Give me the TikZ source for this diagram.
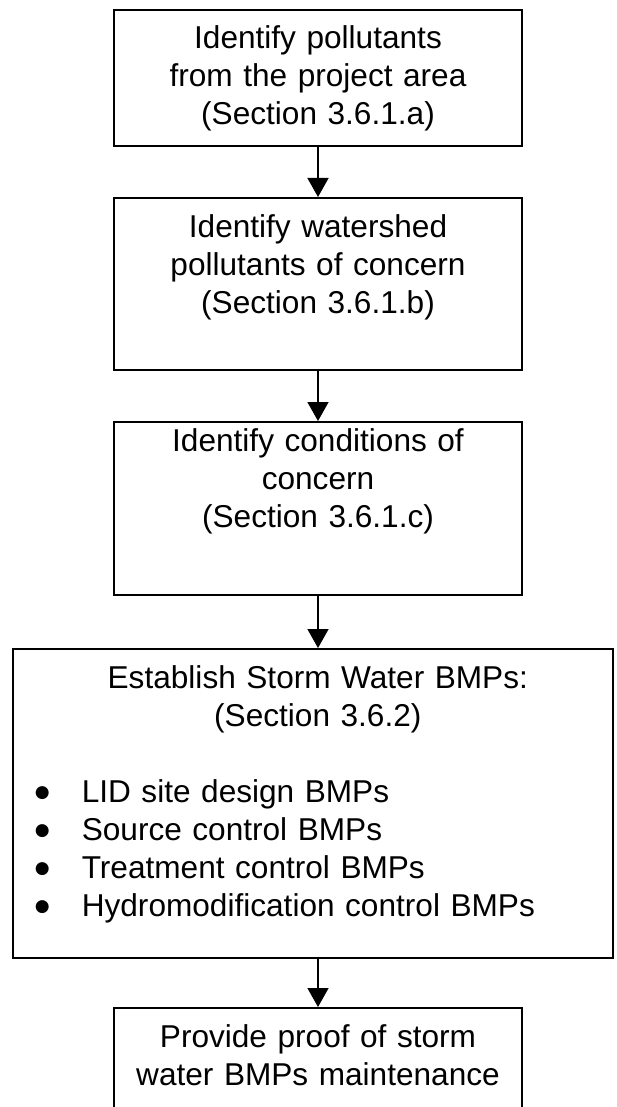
\documentclass[tikz,border=0pt]{standalone}
\usepackage{fontspec}
\setmainfont{Liberation Sans}
\newfontfamily\dotfont{DejaVu Sans}
\usetikzlibrary{arrows.meta}
\newcommand{\bmpitem}[1]{\makebox[600pt][l]{\hspace*{22pt}\makebox[47pt][l]{\raisebox{5pt}{\dotfont\fontsize{17}{17}\selectfont ●}}#1}}
\begin{document}
\begin{tikzpicture}[x=1pt, y=-1pt, font=\fontsize{31.6}{38}\selectfont,
	stepbox/.style={draw, line width=2pt, text width=408pt, align=center, inner sep=0pt, text height=39pt, anchor=north},
	flow/.style={line width=1.6pt, -{Triangle[width=21pt,length=19pt]}}]
	\useasboundingbox (0,0) rectangle (617,1107);
	\clip (0,0) rectangle (617,1107);
	\node (pollutants)	at (318,    9)	[stepbox, text depth=97pt]	{Identify pollutants\\ from the project area\\ (Section 3.6.1.a)};
	\node (watershed)	at (318,  197)	[stepbox, text depth=133pt]	{Identify watershed\\ pollutants of concern\\ (Section 3.6.1.b)};
	\node (conditions)	at (318,  421)	[stepbox, text height=29pt, text depth=144pt]	{Identify conditions of\\ concern\\ (Section 3.6.1.c)};
	\node (bmps)		at (312.8, 648)	[stepbox, text width=600pt, text depth=270pt]
		{\hspace*{10pt}Establish Storm Water BMPs:\\ \hspace*{10pt}(Section 3.6.2)\\[38pt]
		\bmpitem{LID site design BMPs}\\
		\bmpitem{Source control BMPs}\\
		\bmpitem{Treatment control BMPs}\\
		\bmpitem{Hydromodification control BMPs}};
	\node (maintenance)	at (318, 1007)	[stepbox, text depth=150pt]	{Provide proof of storm\\ water BMPs maintenance};
	\draw[flow] (pollutants) -- (watershed);
	\draw[flow] (watershed) -- (conditions);
	\draw[flow] (conditions.south) -- (conditions.south |- bmps.north);
	\draw[flow] (bmps.south -| maintenance.north) -- (maintenance.north);
\end{tikzpicture}
\end{document}
